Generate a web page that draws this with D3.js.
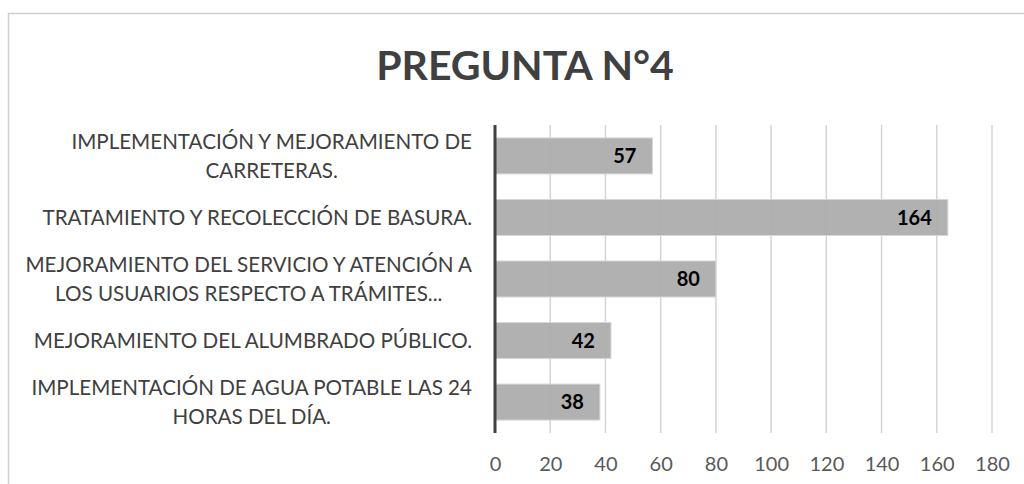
<!DOCTYPE html>
<html>
<head>
<meta charset="utf-8">
<script src="https://cdn.jsdelivr.net/npm/d3@7"></script>
<style>
    body { margin: 0; background: #fff; }
    svg { display: block; }
</style>
</head>
<body>
<div id="chart"></div>
<script>
// chart data
const chartTitle = "PREGUNTA N°4";
const categories = [
    "IMPLEMENTACIÓN Y MEJORAMIENTO DE CARRETERAS.",
    "TRATAMIENTO Y RECOLECCIÓN DE BASURA.",
    "MEJORAMIENTO DEL SERVICIO Y ATENCIÓN A LOS USUARIOS RESPECTO A TRÁMITES...",
    "MEJORAMIENTO DEL ALUMBRADO PÚBLICO.",
    "IMPLEMENTACIÓN DE AGUA POTABLE LAS 24 HORAS DEL DÍA."
];
const values = [57, 164, 80, 42, 38];
const xTicks = [0, 20, 40, 60, 80, 100, 120, 140, 160, 180];

const width = 1024, height = 484;
const margin = { top: 125, right: 32, bottom: 51, left: 495 };

const svg = d3.select("#chart").append("svg")
    .attr("width", width)
    .attr("height", height);

// chart frame (runs off the right and bottom edge)
svg.append("rect")
    .attr("x", 8.5)
    .attr("y", 13.5)
    .attr("width", width + 20)
    .attr("height", height + 20)
    .attr("fill", "none")
    .attr("stroke", "#d0d0d0")
    .attr("stroke-width", 1.5);

svg.append("text")
    .attr("x", 525)
    .attr("y", 80)
    .attr("text-anchor", "middle")
    .style("font-family", "Lato, sans-serif")
    .style("font-weight", "bold")
    .style("font-size", "41px")
    .style("fill", "#404040")
    .text(chartTitle);

// scales
const x = d3.scaleLinear()
    .domain([0, 180])
    .range([margin.left, width - margin.right]);

const y = d3.scaleBand()
    .domain(categories)
    .range([margin.top, height - margin.bottom])
    .paddingInner(0.415)
    .paddingOuter(0.21);

// gridlines
svg.append("g")
    .attr("class", "grid")
    .selectAll("line")
    .data(xTicks.slice(1))
    .join("line")
    .attr("x1", d => x(d))
    .attr("x2", d => x(d))
    .attr("y1", margin.top)
    .attr("y2", height - margin.bottom)
    .attr("stroke", "#d4d4d4")
    .attr("stroke-width", 1.5);

// bars
svg.append("g")
    .selectAll("rect")
    .data(values)
    .join("rect")
    .attr("x", x(0))
    .attr("y", (d, i) => y(categories[i]))
    .attr("width", d => x(d) - x(0))
    .attr("height", y.bandwidth())
    .attr("fill", "#adadad")
    .attr("fill-opacity", 0.95)
    .attr("stroke", "#d6d6d6")
    .attr("stroke-width", 1);

// value labels
svg.append("g")
    .selectAll("text")
    .data(values)
    .join("text")
    .attr("x", d => x(d) - 16)
    .attr("y", (d, i) => y(categories[i]) + y.bandwidth() / 2)
    .attr("dy", "0.36em")
    .attr("text-anchor", "end")
    .style("font-family", "Lato, sans-serif")
    .style("font-weight", "bold")
    .style("font-size", "20px")
    .style("fill", "#000")
    .text(d => d);

// x axis (labels only)
const xAxis = d3.axisBottom(x)
    .tickValues(xTicks)
    .tickSize(0)
    .tickPadding(0);

const xAxisGroup = svg.append("g")
    .attr("transform", "translate(0," + (height - margin.bottom) + ")")
    .call(xAxis);
xAxisGroup.select(".domain").remove();
xAxisGroup.selectAll("text")
    .attr("y", 31)
    .attr("dy", "0.36em")
    .style("font-family", "Lato, sans-serif")
    .style("font-size", "20px")
    .style("fill", "#595959");

// y axis line
svg.append("line")
    .attr("x1", x(0))
    .attr("x2", x(0))
    .attr("y1", margin.top)
    .attr("y2", height - margin.bottom)
    .attr("stroke", "#404040")
    .attr("stroke-width", 3);

// category labels, wrapped to the label column
const labelRight = 472;
const maxLabelWidth = 470;
const lineHeight = 29.5;

const labels = svg.append("g")
    .selectAll("text")
    .data(categories)
    .join("text")
    .attr("text-anchor", "middle")
    .style("font-family", "Lato, sans-serif")
    .style("font-size", "20.6px")
    .style("fill", "#404040");

labels.each(function(d) {
    let text = d3.select(this);
    let words = d.split(" ");
    let lines = [];
    let line = [];
    let tspan = text.append("tspan");
    words.forEach(w => {
        line.push(w);
        tspan.text(line.join(" "));
        if (tspan.node().getComputedTextLength() > maxLabelWidth && line.length > 1) {
            line.pop();
            lines.push(line.join(" "));
            line = [w];
        }
    });
    lines.push(line.join(" "));
    tspan.remove();

    // widest line decides the centre of the block (right aligned block, centred lines)
    let widths = lines.map(l => {
        let t = text.append("tspan").text(l);
        let wdt = t.node().getComputedTextLength();
        t.remove();
        return wdt;
    });
    let blockWidth = d3.max(widths);
    let cx = labelRight - blockWidth / 2;
    let cy = y(d) + y.bandwidth() / 2;
    let y0 = cy - (lines.length - 1) * lineHeight / 2;

    lines.forEach((l, i) => {
        text.append("tspan")
            .attr("x", cx)
            .attr("y", y0 + i * lineHeight)
            .attr("dy", "0.36em")
            .text(l);
    });
});
</script>
</body>
</html>
